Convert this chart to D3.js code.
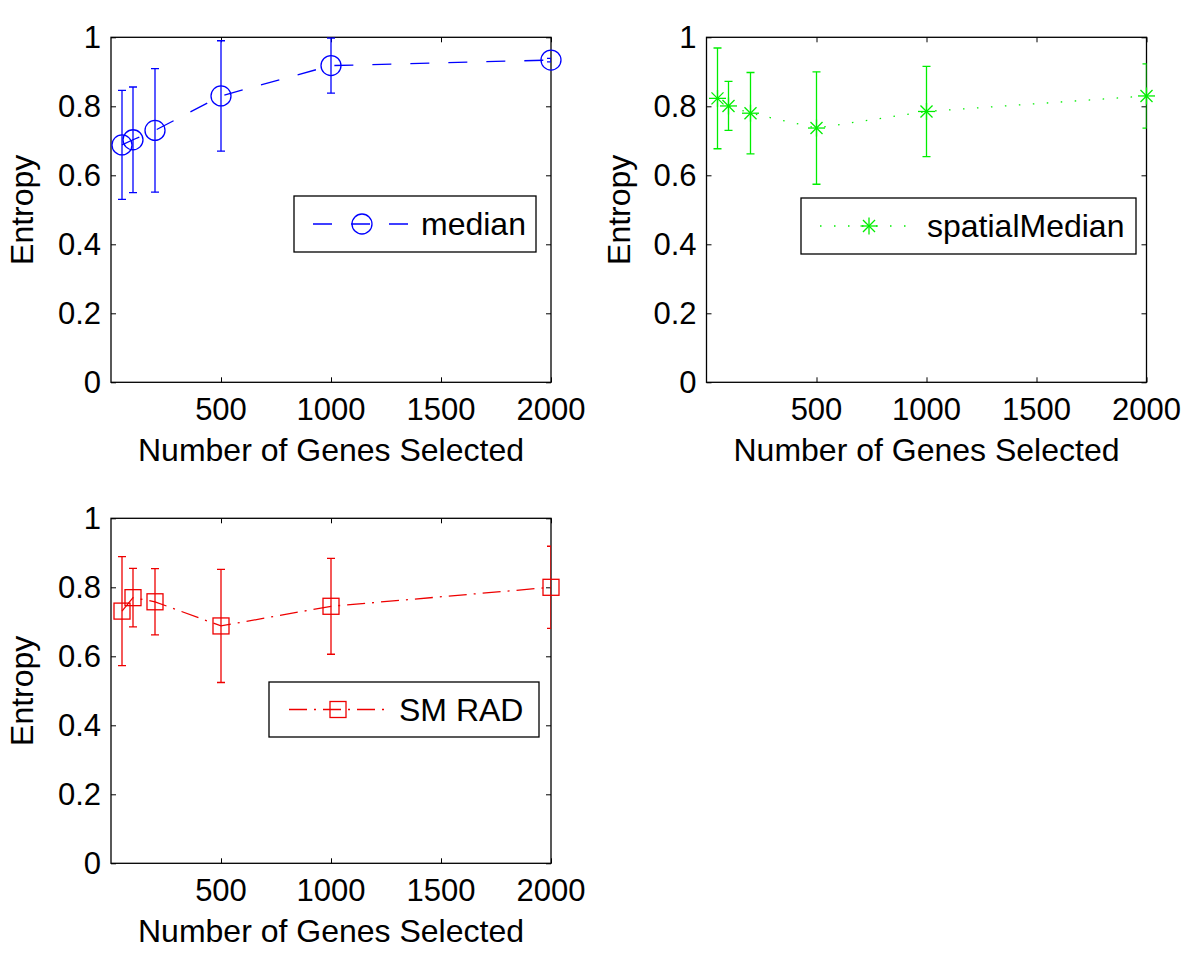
<!DOCTYPE html>
<html>
<head>
<meta charset="utf-8">
<script src="https://cdn.jsdelivr.net/npm/d3@7"></script>
<style>
  body { margin: 0; background: #fff; }
  text { font-family: "Liberation Sans", Arial, Helvetica, sans-serif; fill: #000; }
</style>
</head>
<body>
<div id="chart"></div>
<script>
// number of genes selected (x positions)
var genes = [50, 100, 200, 500, 1000, 2000];

// entropy per method, with half-width of error bars
var medianVals = [0.688, 0.703, 0.730, 0.830, 0.918, 0.934];
var medianErr  = [0.158, 0.153, 0.179, 0.160, 0.080, 0.005];

var spatialVals = [0.823, 0.801, 0.780, 0.737, 0.785, 0.830];
var spatialErr  = [0.146, 0.071, 0.118, 0.163, 0.131, 0.093];

var smradVals = [0.731, 0.770, 0.758, 0.688, 0.745, 0.800];
var smradErr  = [0.158, 0.085, 0.096, 0.164, 0.139, 0.119];

var xTicks = [500, 1000, 1500, 2000];
var yTicks = [0, 0.2, 0.4, 0.6, 0.8, 1];

var W = 1200, H = 959, FS = "31px", LFS = "32px";

var svg = d3.select("#chart")
  .append("svg")
  .attr("width", W)
  .attr("height", H);

var panels = [
  {name: "median", vals: medianVals, err: medianErr, color: "#0000ff", dash: "19,19", marker: "circle",
   left: 111, top: 37.3, ylab: 33, legend: {x0: 294, y0: 196, x1: 536, y1: 252, lx0: 313, lx1: 411, mx: 362, tx: 421}},
  {name: "spatialMedian", vals: spatialVals, err: spatialErr, color: "#00ee00", dash: "1.5,12.5", marker: "star",
   left: 706.5, top: 37.3, ylab: 630, legend: {x0: 801, y0: 198, x1: 1136, y1: 254, lx0: 820, lx1: 915, mx: 869, tx: 927}},
  {name: "SM RAD", vals: smradVals, err: smradErr, color: "#ee0000", dash: "18,7,2,7", marker: "square",
   left: 111, top: 518.3, ylab: 33, legend: {x0: 269, y0: 682, x1: 539, y1: 737, lx0: 289, lx1: 384, mx: 338, tx: 399}}
];

var pw = 440, ph = 345;

function drawMarker(g, type, cx, cy, color) {
  if (type == "circle") {
    g.append("circle").attr("cx", cx).attr("cy", cy).attr("r", 10)
      .attr("fill", "none").attr("stroke", color).attr("stroke-width", 1.3);
  } else if (type == "square") {
    g.append("rect").attr("x", cx - 8).attr("y", cy - 8).attr("width", 16).attr("height", 16)
      .attr("fill", "none").attr("stroke", color).attr("stroke-width", 1.3);
  } else {
    var s = 8.5, d = s * 0.7071;
    var segs = [[-s, 0, s, 0], [0, -s, 0, s], [-d, -d, d, d], [-d, d, d, -d]];
    segs.forEach(function(p) {
      g.append("line")
        .attr("x1", cx + p[0]).attr("y1", cy + p[1])
        .attr("x2", cx + p[2]).attr("y2", cy + p[3])
        .attr("stroke", color).attr("stroke-width", 1.3);
    });
  }
}

panels.forEach(function(p, k) {
  var x = d3.scaleLinear().domain([0, 2000]).range([0, pw]);
  var y = d3.scaleLinear().domain([0, 1]).range([ph, 0]);

  var g = svg.append("g").attr("transform", "translate(" + p.left + "," + p.top + ")");

  svg.append("clipPath").attr("id", "clip" + k)
    .append("rect").attr("x", 0).attr("y", 0).attr("width", pw).attr("height", ph);

  // ticks inward on all four sides
  var axL = d3.axisLeft(y).tickValues(yTicks).tickSize(-5).tickFormat("");
  var axR = d3.axisRight(y).tickValues(yTicks).tickSize(-5).tickFormat("");
  var axB = d3.axisBottom(x).tickValues(xTicks).tickSize(-5).tickFormat("");
  var axT = d3.axisTop(x).tickValues(xTicks).tickSize(-5).tickFormat("");

  [[axL, 0, 0], [axR, pw, 0], [axB, 0, ph], [axT, 0, 0]].forEach(function(a) {
    var ag = g.append("g").attr("transform", "translate(" + a[1] + "," + a[2] + ")").call(a[0]);
    ag.select(".domain").remove();
    ag.selectAll("line").attr("stroke", "#000").attr("stroke-width", 1);
  });

  // tick labels
  g.selectAll(".ylbl").data(yTicks).enter().append("text")
    .attr("x", -10).attr("y", function(d) { return y(d); })
    .attr("dy", "0.36em")
    .attr("text-anchor", "end")
    .style("font-size", FS)
    .text(d3.format("~g"));

  g.selectAll(".xlbl").data(xTicks).enter().append("text")
    .attr("x", function(d) { return x(d); }).attr("y", ph + 37.5)
    .attr("text-anchor", "middle")
    .style("font-size", FS)
    .text(d3.format("d"));

  g.append("rect").attr("width", pw).attr("height", ph)
    .attr("fill", "none").attr("stroke", "#000").attr("stroke-width", 1.3);

  // axis labels
  g.append("text")
    .attr("x", pw / 2).attr("y", ph + 78.5)
    .attr("text-anchor", "middle")
    .style("font-size", LFS)
    .text("Number of Genes Selected");

  svg.append("text")
    .attr("transform", "translate(" + p.ylab + "," + (p.top + ph / 2) + ") rotate(-90)")
    .attr("text-anchor", "middle")
    .style("font-size", LFS)
    .text("Entropy");

  var pts = genes.map(function(gn, i) { return {x: gn, v: p.vals[i], e: p.err[i]}; });

  // error bars
  var eb = g.append("g").attr("clip-path", "url(#clip" + k + ")");
  pts.forEach(function(d) {
    var cx = x(d.x), t = y(d.v + d.e), b = y(d.v - d.e);
    eb.append("line").attr("x1", cx).attr("x2", cx).attr("y1", t).attr("y2", b)
      .attr("stroke", p.color).attr("stroke-width", 1.3);
    [t, b].forEach(function(yy) {
      eb.append("line").attr("x1", cx - 4).attr("x2", cx + 4).attr("y1", yy).attr("y2", yy)
        .attr("stroke", p.color).attr("stroke-width", 1.3);
    });
  });

  // connecting line
  var line = d3.line().x(function(d) { return x(d.x); }).y(function(d) { return y(d.v); });
  g.append("path").datum(pts)
    .attr("d", line)
    .attr("fill", "none")
    .attr("stroke", p.color)
    .attr("stroke-width", 1.3)
    .attr("stroke-dasharray", p.dash);

  pts.forEach(function(d) { drawMarker(g, p.marker, x(d.x), y(d.v), p.color); });

  // legend
  var L = p.legend;
  var lg = svg.append("g");
  lg.append("rect").attr("x", L.x0).attr("y", L.y0).attr("width", L.x1 - L.x0).attr("height", L.y1 - L.y0)
    .attr("fill", "#fff").attr("stroke", "#000").attr("stroke-width", 1.3);
  var ly = (L.y0 + L.y1) / 2;
  lg.append("line").attr("x1", L.lx0).attr("x2", L.lx1).attr("y1", ly).attr("y2", ly)
    .attr("stroke", p.color).attr("stroke-width", 1.3).attr("stroke-dasharray", p.dash);
  drawMarker(lg, p.marker, L.mx, ly, p.color);
  lg.append("text").attr("x", L.tx).attr("y", ly + 11)
    .style("font-size", LFS)
    .text(p.name);
});
</script>
</body>
</html>
